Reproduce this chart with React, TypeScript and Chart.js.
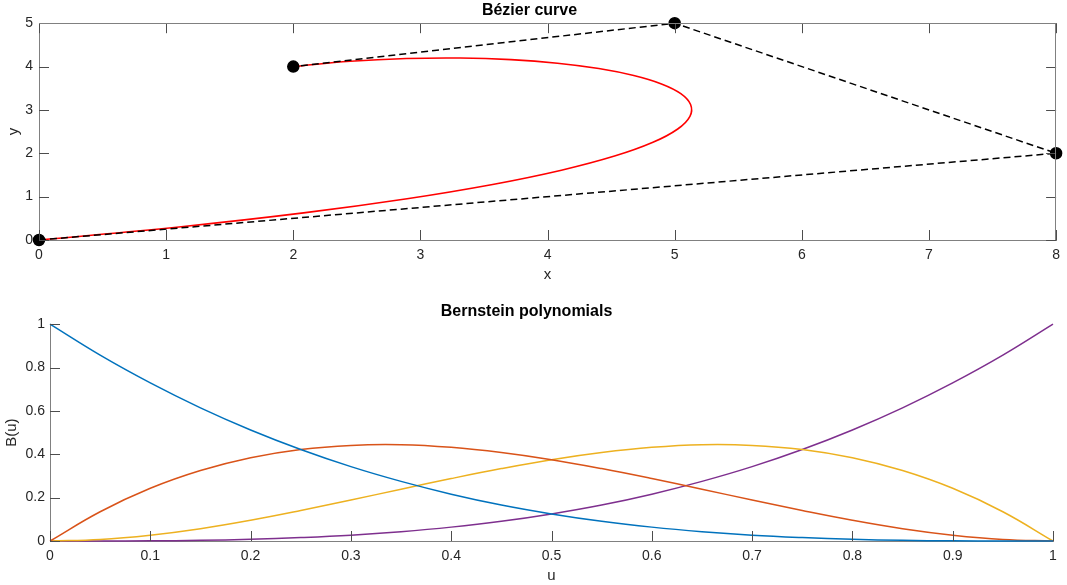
import React, { useEffect, useRef } from "react";
import { Chart, registerables } from "chart.js";

Chart.register(...registerables);

// ---- Data: top plot (Bézier curve) ----
const controlX = [0, 8, 5, 2];
const controlY = [0, 2, 5, 4];
const curveX = [0, 1.119, 2.081, 2.895, 3.568, 4.109, 4.527, 4.829, 5.024, 5.12, 5.125, 5.048, 4.896, 4.678, 4.403, 4.078, 3.712, 3.313, 2.889, 2.449, 2];
const curveY = [0, 0.307, 0.625, 0.951, 1.28, 1.609, 1.935, 2.253, 2.56, 2.852, 3.125, 3.376, 3.6, 3.794, 3.955, 4.078, 4.16, 4.197, 4.185, 4.121, 4];
const topXTicks = [0, 1, 2, 3, 4, 5, 6, 7, 8];
const topXLabels = ["0", "1", "2", "3", "4", "5", "6", "7", "8"];
const topYTicks = [0, 1, 2, 3, 4, 5];
const topYLabels = ["0", "1", "2", "3", "4", "5"];

// ---- Data: bottom plot (Bernstein polynomials) ----
const uValues = [0, 0.05, 0.1, 0.15, 0.2, 0.25, 0.3, 0.35, 0.4, 0.45, 0.5, 0.55, 0.6, 0.65, 0.7, 0.75, 0.8, 0.85, 0.9, 0.95, 1];
const b0 = [1, 0.857, 0.729, 0.614, 0.512, 0.422, 0.343, 0.275, 0.216, 0.166, 0.125, 0.091, 0.064, 0.043, 0.027, 0.016, 0.008, 0.003, 0.001, 0.0, 0];
const b1 = [0, 0.135, 0.243, 0.325, 0.384, 0.422, 0.441, 0.444, 0.432, 0.408, 0.375, 0.334, 0.288, 0.239, 0.189, 0.141, 0.096, 0.057, 0.027, 0.007, 0];
const b2 = [0, 0.007, 0.027, 0.057, 0.096, 0.141, 0.189, 0.239, 0.288, 0.334, 0.375, 0.408, 0.432, 0.444, 0.441, 0.422, 0.384, 0.325, 0.243, 0.135, 0];
const b3 = [0, 0.0, 0.001, 0.003, 0.008, 0.016, 0.027, 0.043, 0.064, 0.091, 0.125, 0.166, 0.216, 0.275, 0.343, 0.422, 0.512, 0.614, 0.729, 0.857, 1];
const bottomXTicks = [0, 0.1, 0.2, 0.3, 0.4, 0.5, 0.6, 0.7, 0.8, 0.9, 1];
const bottomXLabels = ["0", "0.1", "0.2", "0.3", "0.4", "0.5", "0.6", "0.7", "0.8", "0.9", "1"];
const bottomYTicks = [0, 0.2, 0.4, 0.6, 0.8, 1];
const bottomYLabels = ["0", "0.2", "0.4", "0.6", "0.8", "1"];

const FONT = "'Liberation Sans', Arial, Helvetica, sans-serif";
const AXIS_COLOR = "#808080";
const TICK_COLOR = "#4d4d4d";
const TEXT_COLOR = "#262626";

const innerTicks = {
  id: "innerTicks",
  afterDatasetsDraw(chart: any, _args: any, opts: any) {
    const { ctx, chartArea } = chart;
    const len = opts.len ?? 10;
    const xs = chart.scales.x;
    const ys = chart.scales.y;
    ctx.save();
    ctx.strokeStyle = TICK_COLOR;
    ctx.lineWidth = 1;
    ctx.beginPath();
    xs.ticks.forEach((t: any) => {
      const px = Math.round(xs.getPixelForValue(t.value)) + 0.5;
      ctx.moveTo(px, chartArea.bottom);
      ctx.lineTo(px, chartArea.bottom - len);
      if (opts.box) {
        ctx.moveTo(px, chartArea.top);
        ctx.lineTo(px, chartArea.top + len);
      }
    });
    ys.ticks.forEach((t: any) => {
      const py = Math.round(ys.getPixelForValue(t.value)) + 0.5;
      ctx.moveTo(chartArea.left, py);
      ctx.lineTo(chartArea.left + len, py);
      if (opts.box) {
        ctx.moveTo(chartArea.right, py);
        ctx.lineTo(chartArea.right - len, py);
      }
    });
    ctx.stroke();
    if (opts.box) {
      ctx.strokeStyle = AXIS_COLOR;
      ctx.beginPath();
      ctx.moveTo(chartArea.left, Math.round(chartArea.top) + 0.5);
      ctx.lineTo(chartArea.right, Math.round(chartArea.top) + 0.5);
      ctx.moveTo(Math.round(chartArea.right) - 0.5, chartArea.top);
      ctx.lineTo(Math.round(chartArea.right) - 0.5, chartArea.bottom);
      ctx.stroke();
    }
    ctx.restore();
  },
};

function makeScale(opts: {
  min: number;
  max: number;
  ticks: number[];
  labels: string[];
  title: string;
  size?: number;
  isX: boolean;
  labelPad: number;
  titlePad: any;
}) {
  return {
    type: "linear",
    min: opts.min,
    max: opts.max,
    afterBuildTicks: (s: any) => {
      s.ticks = opts.ticks.map((v) => ({ value: v }));
    },
    afterFit: (s: any) => {
      if (opts.size !== undefined) {
        if (opts.isX) s.height = opts.size;
        else s.width = opts.size;
      }
    },
    grid: { display: false, drawTicks: false, tickLength: 0 },
    border: { display: true, color: AXIS_COLOR, width: 1 },
    ticks: {
      autoSkip: false,
      maxRotation: 0,
      padding: opts.labelPad,
      color: TEXT_COLOR,
      font: { family: FONT, size: 14 },
      callback: (_v: any, i: number) => opts.labels[i],
    },
    title: {
      display: true,
      text: opts.title,
      color: TEXT_COLOR,
      font: { family: FONT, size: 15 },
      padding: opts.titlePad,
    },
  };
}

function TopChart() {
  const ref = useRef<HTMLCanvasElement>(null);
  useEffect(() => {
    const chart = new Chart(ref.current!, {
      type: "scatter",
      data: {
        datasets: [
          {
            label: "control polygon",
            data: controlX.map((x, i) => ({ x, y: controlY[i] })),
            showLine: true,
            borderColor: "#000000",
            borderWidth: 1.5,
            borderDash: [7, 4],
            pointRadius: 5.5,
            pointBackgroundColor: "#000000",
            pointBorderColor: "#000000",
            clip: false,
          } as any,
          {
            label: "Bézier curve",
            data: curveX.map((x, i) => ({ x, y: curveY[i] })),
            showLine: true,
            borderColor: "#ff0000",
            borderWidth: 1.6,
            tension: 0.4,
            pointRadius: 0,
            clip: false,
          } as any,
        ],
      },
      options: {
        responsive: false,
        animation: false,
        layout: { padding: { left: 0, right: 8, top: 0, bottom: 0 } },
        plugins: {
          legend: { display: false },
          tooltip: { enabled: false },
          title: {
            display: true,
            text: "Bézier curve",
            color: "#000000",
            font: { family: FONT, size: 16, weight: "bold" },
            padding: { top: 1, bottom: 3 },
          },
          innerTicks: { len: 10, box: true },
        } as any,
        scales: {
          x: makeScale({ min: 0, max: 8, ticks: topXTicks, labels: topXLabels, title: "x", size: 50, isX: true, labelPad: 7, titlePad: { top: 0, bottom: 6 } }),
          y: makeScale({ min: 0, max: 5, ticks: topYTicks, labels: topYLabels, title: "y", size: 39, isX: false, labelPad: 6, titlePad: { top: 5, bottom: 0 } }),
        } as any,
      },
      plugins: [innerTicks],
    });
    return () => chart.destroy();
  }, []);
  return <canvas ref={ref} width={1067} height={290} style={{ display: "block" }} />;
}

function BottomChart() {
  const ref = useRef<HTMLCanvasElement>(null);
  useEffect(() => {
    const series = [
      { label: "B0", values: b0, color: "#0072BD" },
      { label: "B1", values: b1, color: "#D95319" },
      { label: "B2", values: b2, color: "#EDB120" },
      { label: "B3", values: b3, color: "#7E2F8E" },
    ];
    const chart = new Chart(ref.current!, {
      type: "scatter",
      data: {
        datasets: series.map((s) => ({
          label: s.label,
          data: uValues.map((u, i) => ({ x: u, y: s.values[i] })),
          showLine: true,
          borderColor: s.color,
          borderWidth: 1.5,
          tension: 0.4,
          pointRadius: 0,
          clip: false,
        })) as any,
      },
      options: {
        responsive: false,
        animation: false,
        layout: { padding: { left: 0, right: 14, top: 0, bottom: 0 } },
        plugins: {
          legend: { display: false },
          tooltip: { enabled: false },
          title: {
            display: true,
            text: "Bernstein polynomials",
            color: "#000000",
            font: { family: FONT, size: 16, weight: "bold" },
            padding: { top: 12, bottom: 3 },
          },
          innerTicks: { len: 10, box: false },
        } as any,
        scales: {
          x: makeScale({ min: 0, max: 1, ticks: bottomXTicks, labels: bottomXLabels, title: "u", size: 44, isX: true, labelPad: 7, titlePad: { top: 0, bottom: 0 } }),
          y: makeScale({ min: 0, max: 1, ticks: bottomYTicks, labels: bottomYLabels, title: "B(u)", size: 50, isX: false, labelPad: 5, titlePad: { top: 3, bottom: 0 } }),
        } as any,
      },
      plugins: [innerTicks],
    });
    return () => chart.destroy();
  }, []);
  return <canvas ref={ref} width={1067} height={295} style={{ display: "block" }} />;
}

export default function App() {
  return (
    <div style={{ position: "absolute", left: 0, top: 0, width: 1067, height: 585, background: "#ffffff" }}>
      <TopChart />
      <BottomChart />
    </div>
  );
}
